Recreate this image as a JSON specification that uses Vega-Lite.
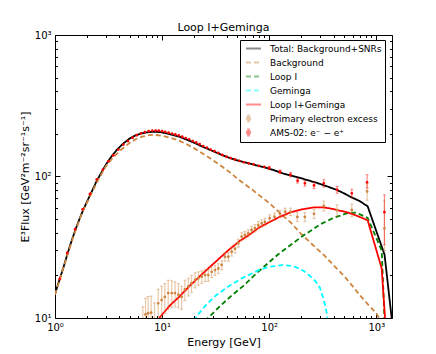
{
  "$schema": "https://vega.github.io/schema/vega-lite/v6.json",
  "width": 337,
  "height": 283,
  "autosize": "none",
  "padding": {"left": 55, "top": 35, "right": 44, "bottom": 36},
  "title": {"text": "Loop I+Geminga", "fontSize": 11, "font": "DejaVu Sans", "fontWeight": "normal", "color": "#000", "offset": -3},
  "config": {
    "font": "DejaVu Sans",
    "view": {"stroke": "#000", "strokeWidth": 1},
    "axis": {"grid": false, "domain": false, "tickColor": "#000", "labelColor": "#000", "titleColor": "#000", "labelFont": "DejaVu Sans", "titleFont": "DejaVu Sans", "labelFontSize": 10, "titleFontSize": 11, "titleFontWeight": "normal", "labelFlush": false, "labelOverlap": false, "tickWidth": 1},
    "legend": {"symbolStrokeWidth": 1.8, "strokeWidth": 1}
  },
  "datasets": {
    "curves": [
      {"s":"Total","E":1,"F":14.8},{"s":"Total","E":1.1,"F":18.6},{"s":"Total","E":1.2,"F":22.8},{"s":"Total","E":1.3,"F":28},{"s":"Total","E":1.4,"F":33.5},{"s":"Total","E":1.55,"F":42},{"s":"Total","E":1.7,"F":50.5},{"s":"Total","E":1.85,"F":59},{"s":"Total","E":2,"F":67},{"s":"Total","E":2.2,"F":78},{"s":"Total","E":2.45,"F":93},{"s":"Total","E":2.7,"F":106},{"s":"Total","E":3,"F":122},{"s":"Total","E":3.4,"F":140},{"s":"Total","E":3.8,"F":155},{"s":"Total","E":4.3,"F":170},{"s":"Total","E":5,"F":186},{"s":"Total","E":5.7,"F":196},{"s":"Total","E":6.5,"F":202},{"s":"Total","E":7.5,"F":206},{"s":"Total","E":8.5,"F":207},{"s":"Total","E":9.5,"F":206},{"s":"Total","E":11,"F":202},{"s":"Total","E":12.5,"F":197},{"s":"Total","E":14.5,"F":191},{"s":"Total","E":17,"F":182},{"s":"Total","E":20,"F":173},{"s":"Total","E":24,"F":162},{"s":"Total","E":30,"F":151},{"s":"Total","E":36,"F":142},{"s":"Total","E":43,"F":135},{"s":"Total","E":52,"F":129},{"s":"Total","E":62,"F":125},{"s":"Total","E":75,"F":120},{"s":"Total","E":90,"F":116},{"s":"Total","E":110,"F":111},{"s":"Total","E":135,"F":105},{"s":"Total","E":165,"F":101},{"s":"Total","E":210,"F":96},{"s":"Total","E":280,"F":90},{"s":"Total","E":350,"F":85},{"s":"Total","E":425,"F":80.5},{"s":"Total","E":500,"F":76},{"s":"Total","E":570,"F":72},{"s":"Total","E":700,"F":67},{"s":"Total","E":830,"F":61.5},{"s":"Total","E":1193,"F":28},{"s":"Total","E":1390,"F":10},{"s":"Total","E":1400,"F":9.5},
      {"s":"Bkg","E":1,"F":14.6},{"s":"Bkg","E":1.1,"F":18.4},{"s":"Bkg","E":1.3,"F":27.6},{"s":"Bkg","E":1.5,"F":38.5},{"s":"Bkg","E":1.8,"F":56},{"s":"Bkg","E":2.1,"F":71},{"s":"Bkg","E":2.5,"F":93},{"s":"Bkg","E":3,"F":119},{"s":"Bkg","E":3.5,"F":137},{"s":"Bkg","E":4,"F":151},{"s":"Bkg","E":4.5,"F":163},{"s":"Bkg","E":5,"F":173},{"s":"Bkg","E":5.7,"F":184},{"s":"Bkg","E":6.5,"F":191},{"s":"Bkg","E":7.5,"F":196},{"s":"Bkg","E":8.5,"F":197},{"s":"Bkg","E":10,"F":194},{"s":"Bkg","E":12,"F":188},{"s":"Bkg","E":14.7,"F":178},{"s":"Bkg","E":17,"F":169},{"s":"Bkg","E":20,"F":158},{"s":"Bkg","E":23,"F":148},{"s":"Bkg","E":26,"F":140},{"s":"Bkg","E":30,"F":130},{"s":"Bkg","E":36,"F":118},{"s":"Bkg","E":43,"F":107},{"s":"Bkg","E":50,"F":97},{"s":"Bkg","E":58,"F":89},{"s":"Bkg","E":66,"F":83},{"s":"Bkg","E":82,"F":73},{"s":"Bkg","E":100,"F":65},{"s":"Bkg","E":130,"F":54},{"s":"Bkg","E":160,"F":47},{"s":"Bkg","E":194,"F":40},{"s":"Bkg","E":259,"F":32.5},{"s":"Bkg","E":330,"F":27.5},{"s":"Bkg","E":400,"F":23.5},{"s":"Bkg","E":500,"F":19.8},{"s":"Bkg","E":600,"F":16.8},{"s":"Bkg","E":700,"F":14.5},{"s":"Bkg","E":850,"F":12.3},{"s":"Bkg","E":1000,"F":10.8},{"s":"Bkg","E":1100,"F":9.5},
      {"s":"LoopI","E":25,"F":9.5},{"s":"LoopI","E":28,"F":10.3},{"s":"LoopI","E":35,"F":12.2},{"s":"LoopI","E":45,"F":14.5},{"s":"LoopI","E":57,"F":16.8},{"s":"LoopI","E":75,"F":20.5},{"s":"LoopI","E":95,"F":24},{"s":"LoopI","E":120,"F":28},{"s":"LoopI","E":156,"F":32.5},{"s":"LoopI","E":200,"F":37.5},{"s":"LoopI","E":240,"F":41},{"s":"LoopI","E":300,"F":46},{"s":"LoopI","E":400,"F":51},{"s":"LoopI","E":530,"F":55},{"s":"LoopI","E":650,"F":55.5},{"s":"LoopI","E":830,"F":51},{"s":"LoopI","E":1122,"F":30},{"s":"LoopI","E":1190,"F":10},{"s":"LoopI","E":1200,"F":9},
      {"s":"Gem","E":19.8,"F":9.5},{"s":"Gem","E":21,"F":10.3},{"s":"Gem","E":26,"F":12.5},{"s":"Gem","E":32,"F":14.5},{"s":"Gem","E":43,"F":17},{"s":"Gem","E":55,"F":19},{"s":"Gem","E":66,"F":20.3},{"s":"Gem","E":82,"F":22},{"s":"Gem","E":100,"F":23},{"s":"Gem","E":135,"F":23.7},{"s":"Gem","E":170,"F":23.2},{"s":"Gem","E":210,"F":21.5},{"s":"Gem","E":240,"F":19.8},{"s":"Gem","E":270,"F":18.2},{"s":"Gem","E":298,"F":16.3},{"s":"Gem","E":320,"F":13.8},{"s":"Gem","E":332,"F":12.4},{"s":"Gem","E":344,"F":10.8},{"s":"Gem","E":352,"F":9.5},
      {"s":"LG","E":9.2,"F":9.7},{"s":"LG","E":9.6,"F":10.2},{"s":"LG","E":12,"F":12.4},{"s":"LG","E":14.7,"F":14.3},{"s":"LG","E":18,"F":16.8},{"s":"LG","E":22.6,"F":19.8},{"s":"LG","E":28,"F":23},{"s":"LG","E":35,"F":26.8},{"s":"LG","E":43,"F":30.8},{"s":"LG","E":53,"F":35},{"s":"LG","E":66,"F":39},{"s":"LG","E":80,"F":43.5},{"s":"LG","E":100,"F":47.5},{"s":"LG","E":126,"F":52},{"s":"LG","E":160,"F":56},{"s":"LG","E":200,"F":58.5},{"s":"LG","E":260,"F":60.5},{"s":"LG","E":320,"F":60.5},{"s":"LG","E":370,"F":59.5},{"s":"LG","E":450,"F":57.5},{"s":"LG","E":530,"F":56},{"s":"LG","E":650,"F":53},{"s":"LG","E":830,"F":49},{"s":"LG","E":1122,"F":22.4},{"s":"LG","E":1205,"F":10},{"s":"LG","E":1215,"F":9}
    ],
    "pts": [
      {"s":"PEE","E":6.6,"F":9.0,"lo":6.2,"hi":12},{"s":"PEE","E":7.0,"F":10.6,"lo":7.5,"hi":13.8},{"s":"PEE","E":7.4,"F":10.8,"lo":7.5,"hi":14.2},{"s":"PEE","E":7.9,"F":10.9,"lo":7.8,"hi":14.3},{"s":"PEE","E":8.5,"F":9.8,"lo":7,"hi":12.8},{"s":"PEE","E":9.2,"F":12.7,"lo":9.5,"hi":16},{"s":"PEE","E":9.9,"F":13.4,"lo":10,"hi":16.8},{"s":"PEE","E":10.6,"F":14.1,"lo":10.8,"hi":17.5},{"s":"PEE","E":11.4,"F":15.0,"lo":11.5,"hi":18.5},{"s":"PEE","E":12.3,"F":15.0,"lo":11.8,"hi":18.3},{"s":"PEE","E":13.2,"F":15.0,"lo":12,"hi":18},{"s":"PEE","E":14.2,"F":14.6,"lo":11.8,"hi":17.5},{"s":"PEE","E":15.2,"F":14.1,"lo":11.5,"hi":16.8},{"s":"PEE","E":16.3,"F":15.9,"lo":13.3,"hi":18.5},{"s":"PEE","E":17.6,"F":16.7,"lo":14.3,"hi":19.1},{"s":"PEE","E":18.8,"F":17.6,"lo":15.2,"hi":20},{"s":"PEE","E":20.3,"F":18.6,"lo":16.3,"hi":20.9},{"s":"PEE","E":21.8,"F":19.1,"lo":17,"hi":21.2},{"s":"PEE","E":23.4,"F":19.6,"lo":17.6,"hi":21.6},{"s":"PEE","E":25.2,"F":20.1,"lo":18.1,"hi":22.1},{"s":"PEE","E":27,"F":20.1,"lo":18.2,"hi":22},{"s":"PEE","E":29,"F":21.2,"lo":19.3,"hi":23.1},{"s":"PEE","E":31.2,"F":21.8,"lo":20,"hi":23.6},{"s":"PEE","E":33.5,"F":22.4,"lo":20.6,"hi":24.2},{"s":"PEE","E":36,"F":23.7,"lo":21.9,"hi":25.5},{"s":"PEE","E":38.6,"F":27.1,"lo":25.2,"hi":29},{"s":"PEE","E":41.5,"F":27.1,"lo":25.2,"hi":29},{"s":"PEE","E":44.6,"F":29.4,"lo":27.4,"hi":31.4},{"s":"PEE","E":47.9,"F":30.9,"lo":28.8,"hi":33},{"s":"PEE","E":51.4,"F":33.8,"lo":31.6,"hi":36},{"s":"PEE","E":55.2,"F":37.6,"lo":35.2,"hi":40},{"s":"PEE","E":59.3,"F":38.6,"lo":36.2,"hi":41},{"s":"PEE","E":63.7,"F":39.7,"lo":37.3,"hi":42.1},{"s":"PEE","E":68.4,"F":41.9,"lo":39.4,"hi":44.4},{"s":"PEE","E":73.5,"F":43.1,"lo":40.5,"hi":45.7},{"s":"PEE","E":79,"F":45.3,"lo":42.6,"hi":48},{"s":"PEE","E":85,"F":46.6,"lo":43.8,"hi":49.4},{"s":"PEE","E":91,"F":47.8,"lo":45,"hi":50.6},{"s":"PEE","E":101,"F":50.7,"lo":47.7,"hi":53.7},{"s":"PEE","E":112,"F":52,"lo":48.9,"hi":55.1},{"s":"PEE","E":126,"F":54.5,"lo":51.2,"hi":57.8},{"s":"PEE","E":141,"F":56.4,"lo":53,"hi":59.8},{"s":"PEE","E":158,"F":56.4,"lo":53,"hi":59.8},{"s":"PEE","E":183,"F":51.8,"lo":48,"hi":55.6},{"s":"PEE","E":215,"F":51.8,"lo":48,"hi":55.6},{"s":"PEE","E":262,"F":54.5,"lo":50.5,"hi":58.5},{"s":"PEE","E":323,"F":62,"lo":57,"hi":67},{"s":"PEE","E":430,"F":57.8,"lo":52.5,"hi":63},{"s":"PEE","E":590,"F":58,"lo":52,"hi":64},{"s":"PEE","E":820,"F":78.4,"lo":68,"hi":89},{"s":"PEE","E":1190,"F":43,"lo":30,"hi":68},
      {"s":"AMS","E":1.11,"F":18.9},{"s":"AMS","E":1.3,"F":28.9},{"s":"AMS","E":1.54,"F":42.4},{"s":"AMS","E":1.81,"F":58.6},{"s":"AMS","E":2.12,"F":75.2},{"s":"AMS","E":2.45,"F":95.5},{"s":"AMS","E":2.8,"F":112},{"s":"AMS","E":3.15,"F":128},{"s":"AMS","E":3.5,"F":141},{"s":"AMS","E":3.9,"F":155},{"s":"AMS","E":4.35,"F":168},{"s":"AMS","E":4.8,"F":178},{"s":"AMS","E":5.3,"F":188},{"s":"AMS","E":5.8,"F":196},{"s":"AMS","E":6.35,"F":202},{"s":"AMS","E":6.9,"F":206},{"s":"AMS","E":7.5,"F":209},{"s":"AMS","E":8.1,"F":211},{"s":"AMS","E":8.7,"F":211},{"s":"AMS","E":9.3,"F":211},{"s":"AMS","E":10,"F":209},{"s":"AMS","E":10.7,"F":207},{"s":"AMS","E":11.5,"F":204},{"s":"AMS","E":12.4,"F":201},{"s":"AMS","E":13.3,"F":198},{"s":"AMS","E":14.3,"F":195},{"s":"AMS","E":15.4,"F":191},{"s":"AMS","E":16.6,"F":187},{"s":"AMS","E":17.9,"F":183},{"s":"AMS","E":19.3,"F":178},{"s":"AMS","E":20.8,"F":174},{"s":"AMS","E":22.4,"F":169},{"s":"AMS","E":24.2,"F":164},{"s":"AMS","E":26.2,"F":160},{"s":"AMS","E":28.4,"F":155},{"s":"AMS","E":30.8,"F":151},{"s":"AMS","E":33.5,"F":147},{"s":"AMS","E":36.5,"F":142},{"s":"AMS","E":39.9,"F":138},{"s":"AMS","E":43.6,"F":135},{"s":"AMS","E":47.8,"F":132},{"s":"AMS","E":52.6,"F":129},{"s":"AMS","E":58,"F":126},{"s":"AMS","E":64.3,"F":124},{"s":"AMS","E":71.6,"F":122},{"s":"AMS","E":80,"F":119},{"s":"AMS","E":90,"F":117},{"s":"AMS","E":100,"F":115,"lo":112,"hi":118},{"s":"AMS","E":126,"F":108,"lo":104.8,"hi":111.2},{"s":"AMS","E":158,"F":103,"lo":99.4,"hi":106.6},{"s":"AMS","E":184,"F":93.5,"lo":89.8,"hi":97.2},{"s":"AMS","E":215,"F":89.5,"lo":85.5,"hi":93.5},{"s":"AMS","E":262,"F":86.5,"lo":82.2,"hi":90.8},{"s":"AMS","E":323,"F":89.5,"lo":84.1,"hi":94.9},{"s":"AMS","E":430,"F":80.5,"lo":76.1,"hi":84.9},{"s":"AMS","E":590,"F":76,"lo":70.7,"hi":81.3},{"s":"AMS","E":820,"F":91,"lo":82.8,"hi":103},{"s":"AMS","E":1190,"F":56,"lo":33,"hi":74}
    ]
  },
  "resolve": {"axis": {"x": "independent", "y": "independent"}},
  "layer": [
    {
      "data": {"name": "curves"},
      "mark": {"type": "line", "clip": true, "strokeWidth": 1.8},
      "encoding": {
        "x": {"field": "E", "type": "quantitative", "scale": {"type": "log", "domain": [1, 1400], "nice": false},
              "axis": {"orient": "bottom", "values": [1, 10, 100, 1000], "tickSize": -5, "labelPadding": 9, "title": "Energy [GeV]", "titleY": 24, "titleBaseline": "middle", "titleFontWeight": 400,
                       "labelExpr": "datum.value==1?'10⁰':datum.value==10?'10¹':datum.value==100?'10²':'10³'"}},
        "y": {"field": "F", "type": "quantitative", "scale": {"type": "log", "domain": [10, 1000], "nice": false},
              "axis": {"orient": "left", "values": [10, 100, 1000], "tickSize": -5, "labelPadding": 9, "title": "E³Flux [GeV²m⁻²sr⁻¹s⁻¹]", "titleX": -30, "titleBaseline": "middle", "titleFontWeight": 400,
                       "labelExpr": "datum.value==10?'10¹':datum.value==100?'10²':'10³'"}},
        "color": {"field": "s", "type": "nominal",
                  "scale": {"domain": ["Total", "Bkg", "LoopI", "Gem", "LG", "PEE", "AMS"], "range": ["#000000", "#cd853f", "#008000", "#00ffff", "#ff0000", "#cd853f", "#ff0000"]},
                  "legend": {"orient": "none", "legendX": 185, "legendY": 5, "title": null, "padding": 2.5, "fillColor": "#ffffff", "strokeColor": "#000000",
                             "labelFont": "DejaVu Sans", "labelFontSize": 9, "labelColor": "#000", "symbolSize": 100, "labelOffset": 15.5, "rowPadding": 0, "gridAlign": "all", "symbolOpacity": 1,
                             "labelExpr": "datum.value=='Total'?'Total: Background+SNRs':datum.value=='Bkg'?'Background':datum.value=='LoopI'?'Loop I':datum.value=='Gem'?'Geminga':datum.value=='LG'?'Loop I+Geminga':datum.value=='PEE'?'Primary electron excess':'AMS-02: e⁻ − e⁺'"}},
        "strokeDash": {"field": "s", "type": "nominal",
                       "scale": {"domain": ["Total", "Bkg", "LoopI", "Gem", "LG", "PEE", "AMS"], "range": [[1, 0], [5, 3], [5, 3], [5, 3], [1, 0], [1, 0], [1, 0]]}}
      }
    },
    {
      "data": {"name": "pts"},
      "mark": {"type": "rule", "clip": true, "opacity": 0.45, "strokeWidth": 1.2},
      "encoding": {
        "x": {"field": "E", "type": "quantitative", "scale": {"type": "log", "domain": [1, 1400], "nice": false},
              "axis": {"orient": "top", "values": [1, 10, 100, 1000], "tickSize": -5, "labels": false, "title": null}},
        "y": {"field": "lo", "type": "quantitative", "scale": {"type": "log", "domain": [10, 1000], "nice": false},
              "axis": {"orient": "right", "values": [10, 100, 1000], "tickSize": -5, "labels": false, "title": null}},
        "y2": {"field": "hi"},
        "color": {"field": "s", "type": "nominal"}
      }
    },
    {
      "data": {"name": "pts"},
      "mark": {"type": "tick", "clip": true, "orient": "horizontal", "size": 3, "thickness": 1, "opacity": 0.45},
      "encoding": {
        "x": {"field": "E", "type": "quantitative", "scale": {"type": "log", "domain": [1, 1400], "nice": false},
              "axis": {"orient": "bottom", "values": [2,3,4,5,6,7,8,9,20,30,40,50,60,70,80,90,200,300,400,500,600,700,800,900], "tickSize": -2.5, "labels": false, "title": null}},
        "y": {"field": "lo", "type": "quantitative", "scale": {"type": "log", "domain": [10, 1000], "nice": false},
              "axis": {"orient": "left", "values": [20,30,40,50,60,70,80,90,200,300,400,500,600,700,800,900], "tickSize": -2.5, "labels": false, "title": null}},
        "color": {"field": "s", "type": "nominal"}
      }
    },
    {
      "data": {"name": "pts"},
      "mark": {"type": "tick", "clip": true, "orient": "horizontal", "size": 3, "thickness": 1, "opacity": 0.45},
      "encoding": {
        "x": {"field": "E", "type": "quantitative", "scale": {"type": "log", "domain": [1, 1400], "nice": false},
              "axis": {"orient": "top", "values": [2,3,4,5,6,7,8,9,20,30,40,50,60,70,80,90,200,300,400,500,600,700,800,900], "tickSize": -2.5, "labels": false, "title": null}},
        "y": {"field": "hi", "type": "quantitative", "scale": {"type": "log", "domain": [10, 1000], "nice": false},
              "axis": {"orient": "right", "values": [20,30,40,50,60,70,80,90,200,300,400,500,600,700,800,900], "tickSize": -2.5, "labels": false, "title": null}},
        "color": {"field": "s", "type": "nominal"}
      }
    },
    {
      "data": {"name": "pts"},
      "mark": {"type": "point", "filled": true, "size": 64, "opacity": 1, "clip": true},
      "encoding": {
        "x": {"field": "E", "type": "quantitative", "scale": {"type": "log", "domain": [1, 1400], "nice": false}, "axis": null},
        "y": {"field": "F", "type": "quantitative", "scale": {"type": "log", "domain": [10, 1000], "nice": false}, "axis": null},
        "color": {"field": "s", "type": "nominal"},
        "shape": {"field": "s", "type": "nominal",
                  "scale": {"domain": ["Total", "Bkg", "LoopI", "Gem", "LG", "PEE", "AMS"],
                            "range": ["M-0.5,0H2.5", "M-0.5,0H2.5", "M-0.5,0H2.5", "M-0.5,0H2.5", "M-0.5,0H2.5",
                                      "M0,-0.6V0.6M-0.25,-0.6H0.25M-0.25,0.6H0.25M-0.35,0A0.35,0.35 0 1 0 0.35,0A0.35,0.35 0 1 0 -0.35,0Z",
                                      "M0,-0.6V0.6M-0.25,-0.6H0.25M-0.25,0.6H0.25M-0.35,0A0.35,0.35 0 1 0 0.35,0A0.35,0.35 0 1 0 -0.35,0Z"]}}
      }
    }
  ]
}
